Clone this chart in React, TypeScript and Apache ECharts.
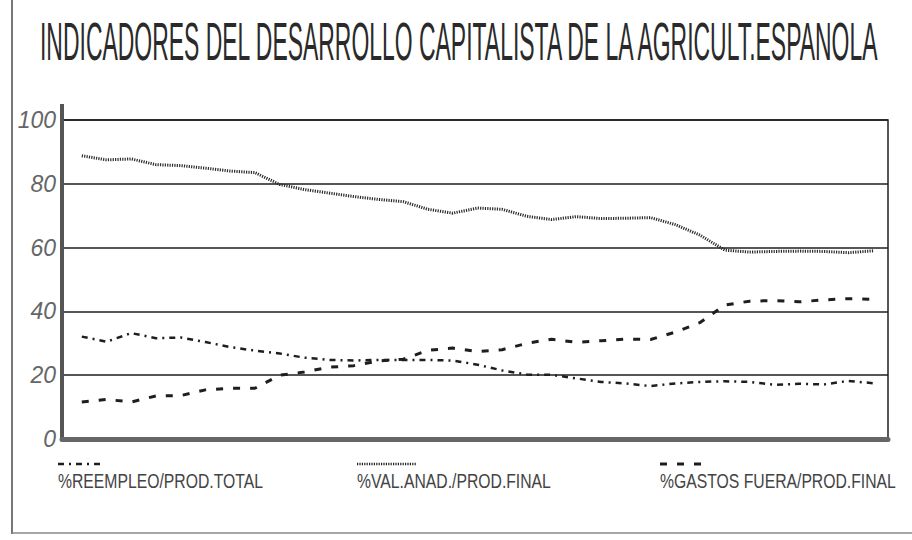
import React, { useEffect, useRef } from "react";
import * as echarts from "echarts";

// Sequential observation periods (no labels are printed on the original x axis)
const periods = [1, 2, 3, 4, 5, 6, 7, 8, 9, 10, 11, 12, 13, 14, 15, 16, 17, 18, 19, 20, 21, 22, 23, 24, 25, 26, 27, 28, 29, 30, 31, 32, 33];

const valAnad = [88.8, 87.5, 87.8, 86.0, 85.7, 84.9, 84.0, 83.5, 79.8, 78.2, 77.1, 76.0, 75.1, 74.4, 72.0, 70.8, 72.4, 72.0, 69.8, 68.8, 69.7, 69.1, 69.2, 69.4, 67.2, 63.9, 59.2, 58.6, 58.8, 58.9, 58.8, 58.4, 59.0];
const reempleo = [32.1, 30.5, 33.2, 31.6, 31.8, 30.4, 28.8, 27.7, 26.8, 25.5, 24.8, 24.6, 24.8, 24.8, 24.8, 24.6, 23.3, 21.5, 20.2, 20.1, 19.0, 17.9, 17.4, 16.6, 17.4, 17.9, 18.1, 17.9, 17.0, 17.3, 17.1, 18.2, 17.5];
const gastos = [11.6, 12.4, 11.6, 13.5, 13.6, 15.4, 15.9, 15.9, 20.0, 21.0, 22.5, 23.0, 24.5, 25.0, 27.8, 28.5, 27.4, 28.0, 30.0, 31.3, 30.3, 30.8, 31.3, 31.2, 33.5, 36.5, 42.0, 43.2, 43.4, 43.0, 43.6, 44.0, 43.8];

const yTicks = [0, 20, 40, 60, 80, 100];

const title = "INDICADORES DEL DESARROLLO CAPITALISTA DE LA AGRICULT.ESPANOLA";
const legendNames = ["%REEMPLEO/PROD.TOTAL", "%VAL.ANAD./PROD.FINAL", "%GASTOS FUERA/PROD.FINAL"];

const INK = "#1e1e1e";
const FONT = "Liberation Sans";

const dashReempleo = [6, 5, 2, 5];
const dashVal = [1.2, 1.2];
const dashGastos = [7, 10];

export default function App() {
  const ref = useRef<HTMLDivElement>(null);

  useEffect(() => {
    if (!ref.current) return;
    const chart = echarts.init(ref.current, null, { renderer: "svg" });

    const pairs = (vals: number[]) => periods.map((p, i) => [p, vals[i]]);

    const legendY = 468;
    const legendItems = [
      { x: 58, name: legendNames[0], dash: dashReempleo, w: 2.5, len: 44 },
      { x: 357, name: legendNames[1], dash: dashVal, w: 2.5, len: 60 },
      { x: 660, name: legendNames[2], dash: dashGastos, w: 3, len: 46 },
    ];

    const graphic: any[] = [
      // outer frame (scan border)
      { type: "line", shape: { x1: 12, y1: 0, x2: 12, y2: 534 }, style: { stroke: "#777", lineWidth: 2 } },
      { type: "line", shape: { x1: 12, y1: 533, x2: 912, y2: 533 }, style: { stroke: "#888", lineWidth: 1.5 } },
      // left axis stub above the 100 line
      { type: "line", shape: { x1: 62, y1: 104, x2: 62, y2: 121 }, style: { stroke: "#555", lineWidth: 4 } },
      {
        type: "text",
        x: 40,
        y: 14,
        scaleX: 0.425,
        style: {
          text: title,
          font: `54px "${FONT}"`,
          fill: "#2a2a2a",
          textAlign: "left",
          textVerticalAlign: "top",
        },
      },
    ];
    legendItems.forEach((it) => {
      graphic.push({
        type: "line",
        shape: { x1: it.x, y1: legendY - 4, x2: it.x + it.len, y2: legendY - 4 },
        style: { stroke: INK, lineWidth: it.w, lineDash: it.dash },
      });
      graphic.push({
        type: "text",
        x: it.x,
        y: legendY + 2,
        scaleX: 0.75,
        style: {
          text: it.name,
          font: `21px "${FONT}"`,
          fill: "#444",
          textAlign: "left",
          textVerticalAlign: "top",
        },
      });
    });

    chart.setOption({
      animation: false,
      backgroundColor: "#ffffff",
      grid: {
        left: 62,
        right: 24,
        top: 120,
        bottom: 101,
        show: true,
        borderColor: INK,
        borderWidth: 1.5,
        backgroundColor: "transparent",
      },
      xAxis: {
        type: "value",
        min: 0.2,
        max: 33.6,
        axisLine: { show: true, onZero: false, lineStyle: { color: "#666", width: 5 } },
        axisTick: { show: false },
        axisLabel: { show: false },
        splitLine: { show: false },
      },
      yAxis: {
        type: "value",
        min: yTicks[0],
        max: yTicks[yTicks.length - 1],
        interval: 20,
        axisLine: { show: true, lineStyle: { color: "#555", width: 4 } },
        axisTick: { show: false },
        axisLabel: {
          color: "#666",
          fontSize: 23,
          fontFamily: FONT,
          fontStyle: "italic",
          margin: 6,
        },
        splitLine: { show: true, lineStyle: { color: INK, width: 1.5 } },
      },
      graphic,
      series: [
        {
          name: legendNames[1],
          type: "line",
          data: pairs(valAnad),
          showSymbol: false,
          lineStyle: { color: "#2a2a2a", width: 3, type: dashVal },
        },
        {
          name: legendNames[0],
          type: "line",
          data: pairs(reempleo),
          showSymbol: false,
          lineStyle: { color: INK, width: 2.5, type: dashReempleo },
        },
        {
          name: legendNames[2],
          type: "line",
          data: pairs(gastos),
          showSymbol: false,
          lineStyle: { color: INK, width: 3, type: dashGastos },
        },
      ],
    });

    return () => chart.dispose();
  }, []);

  return <div ref={ref} style={{ width: 912, height: 540, position: "absolute", left: 0, top: 0 }} />;
}
